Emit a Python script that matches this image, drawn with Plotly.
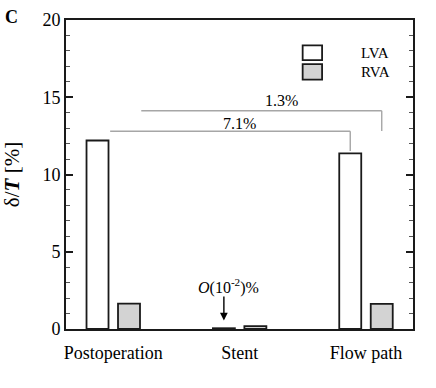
import plotly.graph_objects as go

# data
categories = ['Postoperation', 'Stent', 'Flow path']
lva = [12.2, 0.05, 11.37]
rva = [1.64, 0.18, 1.62]
diff_labels = ['7.1%', '1.3%']

serif = 'Liberation Serif, Times New Roman, serif'
bar_w = 0.174
half_gap = 0.1246   # distance from category centre to each bar centre

fig = go.Figure()
fig.add_trace(go.Bar(x=categories, y=lva, name='LVA', width=bar_w, offset=-half_gap - bar_w / 2,
                     marker=dict(color='white', line=dict(color='#1a1a1a', width=1.8))))
fig.add_trace(go.Bar(x=categories, y=rva, name='RVA', width=bar_w, offset=half_gap - bar_w / 2,
                     marker=dict(color='#d3d3d3', line=dict(color='#1a1a1a', width=1.8))))

grey = dict(color='#a6a6a6', width=1.4)
# bracket between postoperation LVA and flow-path LVA
y1 = 12.8
x_start1 = 0 - half_gap + bar_w / 2 + 0.013
x_end1 = 2 - half_gap
fig.add_shape(type='line', x0=x_start1, x1=x_end1, y0=y1, y1=y1, line=grey)
fig.add_shape(type='line', x0=x_end1, x1=x_end1, y0=y1, y1=lva[2] + 0.15, line=grey)
# bracket between postoperation RVA and flow-path RVA
y2 = 14.13
x_start2 = 0 + half_gap + bar_w / 2 + 0.01
x_end2 = 2 + half_gap
fig.add_shape(type='line', x0=x_start2, x1=x_end2, y0=y2, y1=y2, line=grey)
fig.add_shape(type='line', x0=x_end2, x1=x_end2, y0=y2, y1=12.82, line=grey)

fig.add_annotation(x=1.0, y=13.33, text=diff_labels[0], showarrow=False,
                   font=dict(family=serif, size=16, color='black'), yanchor='middle')
fig.add_annotation(x=1.33, y=14.76, text=diff_labels[1], showarrow=False,
                   font=dict(family=serif, size=16, color='black'), yanchor='middle')

# O(10^-2)% note with arrow onto the stent LVA bar
fig.add_annotation(x=1 - half_gap, y=0.55, ax=1 - half_gap, ay=2.2, axref='x', ayref='y',
                   text='', showarrow=True, arrowhead=2, arrowsize=1.1, arrowwidth=1.4,
                   arrowcolor='black')
fig.add_annotation(x=0.908, y=2.75, text='<i>O</i>(10<sup>-2</sup>)%', showarrow=False,
                   font=dict(family=serif, size=16, color='black'), yanchor='middle')

# hand-made legend
for y0, y1b, col in [(0.918, 0.870, 'white'), (0.857, 0.807, '#d3d3d3')]:
    fig.add_shape(type='rect', xref='paper', yref='paper', x0=0.682, x1=0.738, y0=y1b, y1=y0,
                  fillcolor=col, line=dict(color='#1a1a1a', width=1.8))
fig.add_annotation(xref='paper', yref='paper', x=0.844, y=0.892, text='LVA', showarrow=False,
                   xanchor='left', yanchor='middle', font=dict(family=serif, size=15, color='black'))
fig.add_annotation(xref='paper', yref='paper', x=0.844, y=0.833, text='RVA', showarrow=False,
                   xanchor='left', yanchor='middle', font=dict(family=serif, size=15, color='black'))

# panel letter
fig.add_annotation(xref='paper', yref='paper', x=-0.182, y=1.05, text='<b>C</b>', showarrow=False,
                   xanchor='left', yanchor='top', font=dict(family=serif, size=18, color='black'))

fig.update_layout(
    width=436, height=388,
    margin=dict(l=66, r=23, t=20, b=59),
    plot_bgcolor='white', paper_bgcolor='white',
    showlegend=False,
    font=dict(family=serif, size=18, color='black'),
)
fig.update_xaxes(range=[-0.374, 2.372], showline=True, linecolor='#1a1a1a', linewidth=2,
                 mirror=True, ticks='', showgrid=False, ticklabelstandoff=6, automargin=False,
                 tickfont=dict(family=serif, size=18, color='black'))
fig.update_yaxes(range=[0, 20], tickvals=[0, 5, 10, 15, 20], showline=True, linecolor='#1a1a1a',
                 linewidth=2, mirror='allticks', ticks='inside', ticklen=7, tickwidth=1.5,
                 tickcolor='#1a1a1a', showgrid=False, zeroline=False, automargin=False,
                 minor=dict(dtick=1, ticks='inside', ticklen=4, tickwidth=1, tickcolor='#555555'),
                 tickfont=dict(family=serif, size=18, color='black'),
                 title=dict(text='δ/<b><i>T</i></b> [%]', font=dict(family=serif, size=21, color='black'),
                            standoff=22))

# drop the browser's default 8px body margin so the figure sits at the window corner
fig.write_html('out.html', config={'displayModeBar': False},
               post_script="document.body.style.margin='0';")
